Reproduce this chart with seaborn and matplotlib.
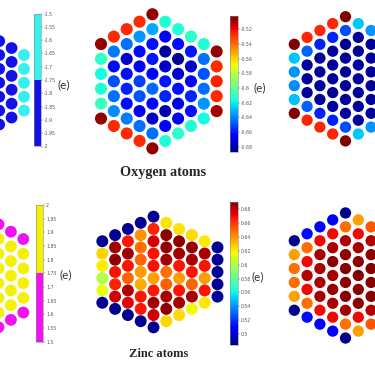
import matplotlib
matplotlib.use("Agg")
import matplotlib.pyplot as plt
import seaborn as sns
import pandas as pd
from matplotlib.colors import ListedColormap, Normalize
from matplotlib.cm import ScalarMappable

# column heights of the hexagonal flakes, left -> right
HEX_HEIGHTS = [6, 7, 8, 9, 10, 9, 8, 7, 6, 5]
HEX_HEIGHTS_MIRROR = [5, 6, 7, 8, 9, 10, 9, 8, 7, 6]

# ---- oxygen atoms -------------------------------------------------------
# left panel (two-level map, only the right-most columns are in the crop)
O_LEFT_COLS = [7, 8, 9]
O_LEFT_VALUES = [
    [-1.92, -1.92, -1.92, -1.92, -1.92, -1.92, -1.92],
    [-1.93, -1.93, -1.93, -1.93, -1.93, -1.93],
    [-1.60, -1.60, -1.60, -1.60, -1.60],
]
O_LEFT_TICKS = [-2, -1.95, -1.9, -1.85, -1.8, -1.75, -1.7, -1.65, -1.6, -1.55, -1.5]

# middle panel (jet map), values top -> bottom per column
O_MID_COLS = [0, 1, 2, 3, 4, 5, 6, 7, 8, 9]
O_MID_VALUES = [
    [-0.505, -0.612, -0.618, -0.615, -0.610, -0.505],
    [-0.527, -0.642, -0.662, -0.650, -0.643, -0.638, -0.527],
    [-0.527, -0.643, -0.674, -0.661, -0.658, -0.662, -0.641, -0.527],
    [-0.527, -0.636, -0.662, -0.665, -0.652, -0.648, -0.667, -0.643, -0.527],
    [-0.505, -0.633, -0.661, -0.660, -0.664, -0.645, -0.663, -0.676, -0.643, -0.505],
    [-0.615, -0.664, -0.682, -0.676, -0.660, -0.658, -0.680, -0.664, -0.615],
    [-0.615, -0.661, -0.684, -0.675, -0.661, -0.672, -0.664, -0.612],
    [-0.612, -0.660, -0.675, -0.665, -0.657, -0.661, -0.615],
    [-0.615, -0.643, -0.648, -0.643, -0.637, -0.618],
    [-0.505, -0.527, -0.525, -0.527, -0.508],
]
O_MID_RANGE = (-0.687, -0.502)
O_MID_TICKS = [-0.68, -0.66, -0.64, -0.62, -0.6, -0.58, -0.56, -0.54, -0.52]

# right panel (jet map, only the left columns are in the crop)
O_RIGHT_COLS = [0, 1, 2, 3, 4, 5, 6]
O_RIGHT_VALUES = [
    [-0.500, -0.636, -0.646, -0.647, -0.637, -0.500],
    [-0.526, -0.656, -0.695, -0.696, -0.695, -0.656, -0.526],
    [-0.526, -0.668, -0.696, -0.696, -0.695, -0.696, -0.668, -0.526],
    [-0.526, -0.668, -0.695, -0.696, -0.695, -0.696, -0.695, -0.668, -0.526],
    [-0.500, -0.660, -0.696, -0.695, -0.696, -0.696, -0.695, -0.696, -0.660, -0.500],
    [-0.636, -0.695, -0.696, -0.695, -0.696, -0.695, -0.696, -0.695, -0.636],
    [-0.646, -0.696, -0.695, -0.696, -0.696, -0.695, -0.696, -0.646],
]
O_RIGHT_RANGE = (-0.70, -0.50)

# ---- zinc atoms ---------------------------------------------------------
ZN_LEFT_COLS = [7, 8, 9]
ZN_LEFT_VALUES = [
    [1.60, 1.85, 1.85, 1.85, 1.85, 1.85, 1.85, 1.60],
    [1.60, 1.85, 1.85, 1.85, 1.85, 1.85, 1.60],
    [1.60, 1.85, 1.85, 1.85, 1.85, 1.60],
]
ZN_LEFT_TICKS = [1.5, 1.55, 1.6, 1.65, 1.7, 1.75, 1.8, 1.85, 1.9, 1.95, 2]

ZN_MID_COLS = [0, 1, 2, 3, 4, 5, 6, 7, 8, 9]
ZN_MID_VALUES = [
    [0.488, 0.626, 0.620, 0.602, 0.615, 0.488],
    [0.488, 0.684, 0.688, 0.669, 0.665, 0.676, 0.488],
    [0.488, 0.667, 0.684, 0.668, 0.650, 0.682, 0.672, 0.488],
    [0.488, 0.640, 0.648, 0.650, 0.638, 0.635, 0.668, 0.667, 0.488],
    [0.488, 0.665, 0.675, 0.668, 0.669, 0.637, 0.667, 0.684, 0.676, 0.488],
    [0.622, 0.688, 0.687, 0.684, 0.648, 0.651, 0.683, 0.688, 0.625],
    [0.623, 0.688, 0.684, 0.668, 0.638, 0.668, 0.683, 0.624],
    [0.624, 0.687, 0.684, 0.668, 0.650, 0.683, 0.617],
    [0.621, 0.683, 0.668, 0.638, 0.668, 0.622],
    [0.488, 0.488, 0.488, 0.488, 0.488],
]
ZN_MID_RANGE = (0.484, 0.691)
ZN_MID_TICKS = [0.5, 0.52, 0.54, 0.56, 0.58, 0.6, 0.62, 0.64, 0.66, 0.68]

ZN_RIGHT_COLS = [0, 1, 2, 3, 4, 5, 6]
ZN_RIGHT_VALUES = [
    [0.482, 0.643, 0.654, 0.655, 0.642, 0.482],
    [0.510, 0.655, 0.678, 0.690, 0.678, 0.654, 0.510],
    [0.508, 0.678, 0.692, 0.692, 0.691, 0.692, 0.678, 0.508],
    [0.505, 0.678, 0.692, 0.697, 0.692, 0.695, 0.692, 0.678, 0.505],
    [0.482, 0.655, 0.692, 0.698, 0.699, 0.698, 0.699, 0.693, 0.654, 0.482],
    [0.643, 0.678, 0.692, 0.698, 0.699, 0.698, 0.697, 0.678, 0.643],
    [0.660, 0.690, 0.697, 0.699, 0.699, 0.697, 0.690, 0.660],
]
ZN_RIGHT_RANGE = (0.48, 0.70)

W, H = 375, 366
JET = plt.get_cmap("jet")
O_EDGE_CMAP = ListedColormap(["#1212e6", "#36f0f0"])
ZN_EDGE_CMAP = ListedColormap(["#f012f0", "#f4f008"])


def flake_frame(heights, cols, values):
    rows = []
    for c, col_vals in zip(cols, values):
        h = heights[c]
        for j, v in enumerate(col_vals):
            rows.append((c, (h - 1) / 2 - j, v))
    return pd.DataFrame(rows, columns=["col", "row", "charge"])


def px_axes(fig, x, y, w, h):
    """add axes from a pixel box measured from the top-left corner"""
    return fig.add_axes([x / W, (H - y - h) / H, w / W, h / H])


def draw_flake(fig, df, cmap, norm, x_first, y_mid, dx, dy, size):
    ax = px_axes(fig, x_first - dx, y_mid - 6 * dy, 11 * dx, 12 * dy)
    sns.scatterplot(data=df, x="col", y="row", hue="charge", palette=cmap,
                    hue_norm=norm, s=size, linewidth=0, legend=False, ax=ax)
    ax.set_xlim(-1, 10)
    ax.set_ylim(-6, 6)
    ax.axis("off")
    return ax


def draw_cbar(fig, cmap, norm, ticks, box):
    cax = px_axes(fig, *box)
    cb = fig.colorbar(ScalarMappable(norm=norm, cmap=cmap), cax=cax)
    cb.set_ticks(ticks)
    cb.set_ticklabels([f"{t:g}" for t in ticks])
    cb.outline.set_linewidth(0.4)
    cb.outline.set_edgecolor("#888888")
    cax.tick_params(labelsize=3.3, length=1.2, width=0.3, pad=0.8,
                    colors="#555555")
    return cb


sns.set_style("white")
plt.rcParams["font.family"] = ["DejaVu Sans"]

fig = plt.figure(figsize=(W / 100, H / 100), dpi=100)
fig.patch.set_facecolor("white")

# oxygen row
o_edge_norm = Normalize(-2, -1.5)
draw_flake(fig, flake_frame(HEX_HEIGHTS, O_LEFT_COLS, O_LEFT_VALUES),
           O_EDGE_CMAP, o_edge_norm, -87.6, 82.8, 12.4, 13.9, 72)
draw_cbar(fig, O_EDGE_CMAP, o_edge_norm, O_LEFT_TICKS, (33.5, 13.5, 7, 133))

o_mid_norm = Normalize(*O_MID_RANGE)
draw_flake(fig, flake_frame(HEX_HEIGHTS, O_MID_COLS, O_MID_VALUES),
           JET, o_mid_norm, 101, 81.3, 12.85, 14.9, 76)
draw_cbar(fig, JET, o_mid_norm, O_MID_TICKS, (230, 16, 7.5, 135.7))

draw_flake(fig, flake_frame(HEX_HEIGHTS, O_RIGHT_COLS, O_RIGHT_VALUES),
           JET, Normalize(*O_RIGHT_RANGE), 294.3, 78.8, 12.8, 13.8, 66)

# zinc row
zn_edge_norm = Normalize(1.5, 2)
draw_flake(fig, flake_frame(HEX_HEIGHTS_MIRROR, ZN_LEFT_COLS, ZN_LEFT_VALUES),
           ZN_EDGE_CMAP, zn_edge_norm, -88.3, 275.8, 12.4, 14.7, 72)
draw_cbar(fig, ZN_EDGE_CMAP, zn_edge_norm, ZN_LEFT_TICKS, (36, 205, 7.3, 136.7))

zn_mid_norm = Normalize(*ZN_MID_RANGE)
draw_flake(fig, flake_frame(HEX_HEIGHTS, ZN_MID_COLS, ZN_MID_VALUES),
           JET, zn_mid_norm, 102.3, 272, 12.8, 12.3, 74)
draw_cbar(fig, JET, zn_mid_norm, ZN_MID_TICKS, (229.5, 201.7, 8, 143.3))

draw_flake(fig, flake_frame(HEX_HEIGHTS, ZN_RIGHT_COLS, ZN_RIGHT_VALUES),
           JET, Normalize(*ZN_RIGHT_RANGE), 294.3, 275.5, 12.8, 13.9, 66)

# unit labels and titles
for x, y in [(58, 85), (254, 88), (59, 275), (251, 277)]:
    fig.text(x / W, 1 - y / H, "(e)", fontsize=8.5, color="#333333",
             family=["Lato", "DejaVu Sans"], ha="left", va="center")

fig.text(163 / W, 1 - 172 / H, "Oxygen atoms", fontsize=10.2, weight="bold",
         family=["Liberation Serif"], ha="center", va="center")
fig.text(159 / W, 1 - 354 / H, "Zinc atoms", fontsize=9, weight="bold",
         family=["Liberation Serif"], ha="center", va="center")

fig.savefig("out.png", dpi=100)
